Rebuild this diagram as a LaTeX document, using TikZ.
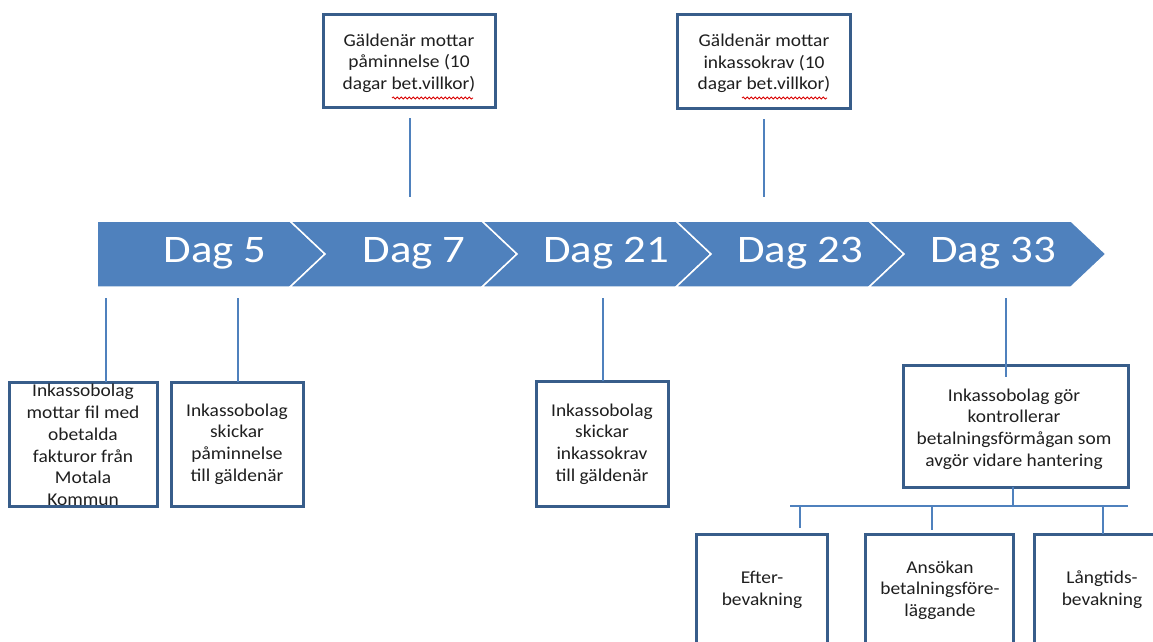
\documentclass[tikz,border=0pt]{standalone}
\usepackage{fontspec}
\setmainfont[FakeStretch=1.08]{Carlito}
\newfontfamily\dayfont[FakeStretch=1.15]{Carlito}
\usetikzlibrary{decorations.pathmorphing}
\definecolor{band}{HTML}{4F81BD}
\definecolor{boxline}{HTML}{385D8A}
\definecolor{connc}{HTML}{4F81BD}
\definecolor{txt}{HTML}{1F1F1F}
\begin{document}
\begin{tikzpicture}[x=1pt,y=-1pt,
  chev/.style={fill=band, draw=white, line width=1.5pt, line join=miter},
  daytext/.style={text=white, font=\dayfont\fontsize{39}{46}\selectfont, inner sep=0pt, anchor=base},
  box/.style={draw=boxline, line width=3pt, fill=white, rectangle, inner sep=0pt, outer sep=0pt},
  btext/.style={align=center, font=\fontsize{18}{21.7}\selectfont, text=txt, inner sep=0pt},
  conn/.style={draw=connc, line width=1.5pt},
  squig/.style={draw=red!85!black, line width=0.8pt, decorate, decoration={snake, amplitude=1.1pt, segment length=4pt}}]

\useasboundingbox (0,0) rectangle (1153,642);
\clip (0,0) rectangle (1153,642);

% timeline band
\path[chev] (97,221) -- (290,221) -- (325,254) -- (290,287) -- (97,287) -- cycle;
\path[chev] (290,221) -- (482,221) -- (517,254) -- (482,287) -- (290,287) -- (325,254) -- cycle;
\path[chev] (482,221) -- (676,221) -- (711,254) -- (676,287) -- (482,287) -- (517,254) -- cycle;
\path[chev] (676,221) -- (869,221) -- (904,254) -- (869,287) -- (676,287) -- (711,254) -- cycle;
\path[chev] (869,221) -- (1071,221) -- (1106,254) -- (1071,287) -- (869,287) -- (904,254) -- cycle;

\node[daytext] (d5) at (215,262.5) {Dag 5};
\node[daytext] (d7) at (414,262.5) {Dag 7};
\node[daytext] (d21) at (606,262.5) {Dag 21};
\node[daytext] (d23) at (800,262.5) {Dag 23};
\node[daytext] (d33) at (993,262.5) {Dag 33};

\coordinate (bandtop) at (0,221);
\coordinate (bandbot) at (0,287);

% top boxes
\node[box, minimum width=172pt, minimum height=92pt] (t1) at (409,61) {};
\node[btext] (t1x) at (409,63) {Gäldenär mottar\\påminnelse (10\\dagar bet.villkor)};
\node[box, minimum width=173pt, minimum height=93pt] (t2) at (764,61.5) {};
\node[btext] (t2x) at (764,63.5) {Gäldenär mottar\\inkassokrav (10\\dagar bet.villkor)};

% bottom boxes
\node[box, minimum width=148pt, minimum height=124pt] (b1) at (83,444) {};
\node[btext] (b1x) at (83,445) {Inkassobolag\\mottar fil med\\obetalda\\fakturor från\\Motala\\Kommun};
\node[box, minimum width=132pt, minimum height=124pt] (b2) at (237,444) {};
\node[btext] (b2x) at (237,444) {Inkassobolag\\skickar\\påminnelse\\till gäldenär};
\node[box, minimum width=132pt, minimum height=125pt] (b3) at (602,443.5) {};
\node[btext] (b3x) at (602,444) {Inkassobolag\\skickar\\inkassokrav\\till gäldenär};
\node[box, minimum width=225pt, minimum height=122pt] (b4) at (1015.5,426) {};
\node[btext] (b4x) at (1014,429) {Inkassobolag gör\\kontrollerar\\betalningsförmågan som\\avgör vidare hantering};

% outcome boxes
\node[box, minimum width=131pt, minimum height=126pt] (e1) at (761.5,597) {};
\node[btext] (e1x) at (762,590) {Efter-\\bevakning};
\node[box, minimum width=148pt, minimum height=126pt] (e2) at (939,597) {};
\node[btext] (e2x) at (940,590) {Ansökan\\betalningsföre-\\läggande};
\node[box, minimum width=126pt, minimum height=126pt] (e3) at (1097,597) {};
\node[btext] (e3x) at (1102,590) {Långtids-\\bevakning};

% connectors: top
\draw[conn, shorten <=11pt, shorten >=24pt] ([xshift=1pt]t1.south) -- ([xshift=1pt]t1.south |- bandtop);
\draw[conn, shorten <=11pt, shorten >=24pt] (t2.south) -- (t2.south |- bandtop);

% connectors: bottom
\draw[conn, shorten <=11pt] ([xshift=23pt]b1.north |- bandbot) -- ([xshift=23pt]b1.north);
\draw[conn, shorten <=11pt] ([xshift=1pt]b2.north |- bandbot) -- ([xshift=1pt]b2.north);
\draw[conn, shorten <=11pt] ([xshift=1pt]b3.north |- bandbot) -- ([xshift=1pt]b3.north);
\draw[conn, shorten <=11pt] ([xshift=-9.5pt]b4.north |- bandbot) -- ([xshift=-9.5pt,yshift=-12pt]b4.north);

% tree below b4
\coordinate (busL) at (790,506);
\coordinate (busR) at (1128,506);
\coordinate (dropE) at (800,506);
\coordinate (dropA) at (932,506);
\coordinate (dropL) at (1103,506);
\draw[conn] ([xshift=-2.5pt]b4.south) -- ([xshift=-2.5pt]b4.south |- busL);
\draw[conn] (busL) -- (busR);
\draw[conn, shorten >=6pt] (dropE) -- (dropE |- e1.north);
\draw[conn, shorten >=4pt] (dropA) -- (dropA |- e2.north);
\draw[conn] (dropL) -- (dropL |- e3.north);

% spell-check underlines
\draw[squig] (392,98) -- (473,98);
\draw[squig] (742,98) -- (827,98);
\end{tikzpicture}
\end{document}
